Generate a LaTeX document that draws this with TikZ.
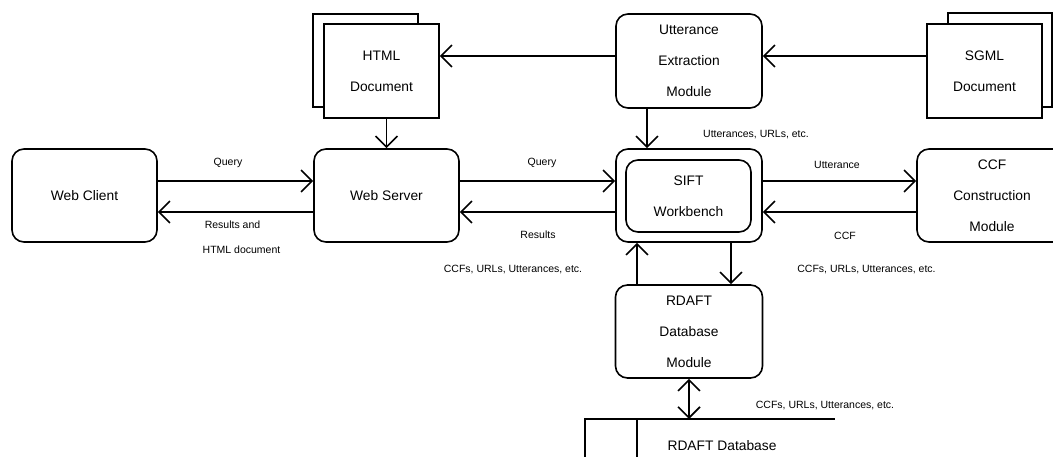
\documentclass[tikz,border=0pt]{standalone}
\usepackage{fontspec}
\setmainfont{Liberation Sans}
\usetikzlibrary{arrows.meta}

\begin{document}
\begin{tikzpicture}[x=1pt,y=-1pt,line width=1.6pt,
    module/.style={draw,fill=white,rounded corners=12pt,minimum width=146pt,minimum height=93pt,
      align=center,font=\fontsize{13.8}{31}\selectfont},
    paper/.style={draw,fill=white,minimum width=115pt,minimum height=94pt,
      align=center,font=\fontsize{13.8}{31}\selectfont},
    lbl/.style={font=\fontsize{10.5}{12}\selectfont},
    flow/.style={-{Straight Barb[length=11pt,width=22pt]}},
    twoway/.style={{Straight Barb[length=11pt,width=22pt]}-{Straight Barb[length=11pt,width=22pt]}}]
  \useasboundingbox (0,0) rectangle (1053,457);
  \clip (0,0) rectangle (1053,457);

  % documents on top
  \node[paper,minimum width=105pt,minimum height=93pt] (htmlback) at (365.5,60.5) {};
  \node[paper] (html) at (381.5,71) {HTML\\Document};
  \node[paper,minimum width=104pt] (sgmlback) at (1000,60) {};
  \node[paper] (sgml) at (984.5,71) {SGML\\Document};
  \node[module,minimum height=94pt] (utter) at (689,61) {Utterance\\Extraction\\Module};

  % middle row
  \node[module,minimum width=145pt] (client) at (84.5,195.5) {Web Client};
  \node[module,minimum width=145pt] (server) at (386.5,195.5) {Web Server};
  \node[module] (sift) at (689,195.5) {};
  \node[module,minimum width=125pt,minimum height=72pt] (bench) at (688.5,196) {SIFT\\Workbench};
  \node[module,minimum width=150pt] (ccf) at (992,195.5) {CCF\\Construction\\Module};

  % database
  \node[module,minimum width=147pt] (rdaft) at (689,331.5) {RDAFT\\Database\\Module};
  \coordinate (dbnw) at (585,419);
  \draw (585,465) -- (dbnw) -- (835,419);
  \draw (637,419) -- (637,465);
  \node[font=\fontsize{13.8}{16}\selectfont] (dbname) at (722,446) {RDAFT Database};

  % connectors
  \coordinate (ul) at ([yshift=5pt]utter.west);
  \coordinate (ur) at ([yshift=5pt]utter.east);
  \draw[flow] (ul) -- (ul -| html.east);
  \draw[flow] (ur -| sgml.west) -- (ur);
  \draw[flow] (html.south -| server.north) -- (server.north);
  \draw[flow] ([xshift=-42pt]utter.south) -- ([xshift=-42pt]sift.north);

  \draw[flow] ([yshift=14.5pt]client.east) -- ([yshift=14.5pt]server.west);
  \draw[flow] ([yshift=-16.5pt]server.west) -- ([yshift=-16.5pt]client.east);
  \draw[flow] ([yshift=14.5pt]server.east) -- ([yshift=14.5pt]sift.west);
  \draw[flow] ([yshift=-16.5pt]sift.west) -- ([yshift=-16.5pt]server.east);
  \draw[flow] ([yshift=14.5pt]sift.east) -- ([yshift=14.5pt]ccf.west);
  \draw[flow] ([yshift=-16.5pt]ccf.west) -- ([yshift=-16.5pt]sift.east);

  \draw[flow] ([xshift=-52pt]rdaft.north) -- ([xshift=-52pt]sift.south);
  \draw[flow] ([xshift=42pt]sift.south) -- ([xshift=42pt]rdaft.north);
  \draw[twoway] (rdaft.south) -- (rdaft.south |- dbnw);

  % labels
  \node[lbl] (q1) at (228,163) {Query};
  \node[lbl] (r1) at (232.5,225) {Results and};
  \node[lbl] (r1b) at (241.5,250) {HTML document};
  \node[lbl] (q2) at (542,163) {Query};
  \node[lbl] (r2) at (538,235) {Results};
  \node[lbl] (ccfs1) at (513,270) {CCFs, URLs, Utterances, etc.};
  \node[lbl] (u3) at (837,165) {Utterance};
  \node[lbl] (c3) at (845,236) {CCF};
  \node[lbl] (ccfs2) at (866.5,270) {CCFs, URLs, Utterances, etc.};
  \node[lbl] (uu) at (756,135) {Utterances, URLs, etc.};
  \node[lbl] (ccfs3) at (825,406) {CCFs, URLs, Utterances, etc.};
\end{tikzpicture}
\end{document}
